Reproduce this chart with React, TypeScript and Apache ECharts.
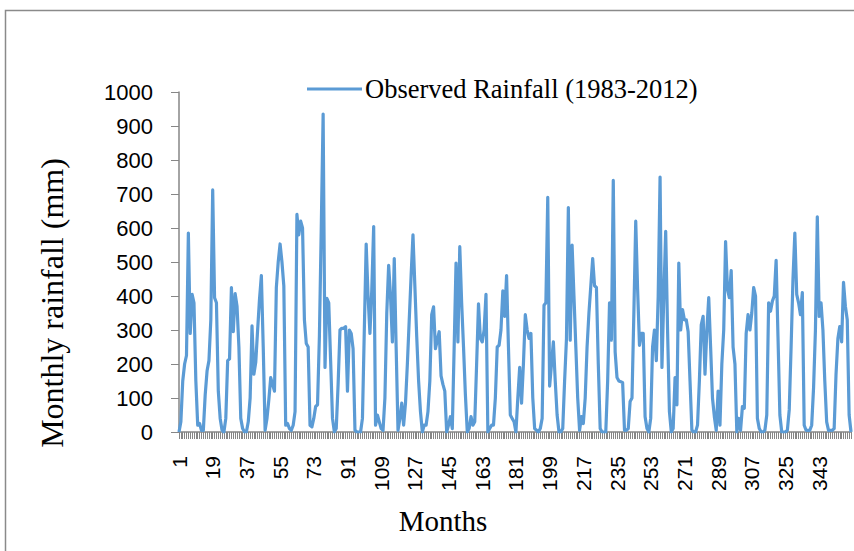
import React, { useEffect, useRef } from "react";
import * as echarts from "echarts";

const y1983 = [0, 30, 150, 200, 225, 585, 290, 405, 380, 150, 20, 25];
const y1984 = [5, 5, 110, 180, 210, 330, 712, 395, 380, 120, 40, 5];
const y1985 = [0, 40, 210, 215, 425, 295, 407, 370, 250, 40, 10, 0];
const y1986 = [0, 30, 100, 312, 170, 205, 300, 390, 460, 250, 5, 40];
const y1987 = [95, 160, 140, 120, 425, 500, 553, 500, 430, 20, 25, 10];
const y1988 = [5, 20, 60, 640, 580, 620, 600, 330, 260, 250, 20, 15];
const y1989 = [40, 75, 80, 280, 600, 935, 190, 393, 380, 210, 40, 0];
const y1990 = [10, 140, 300, 305, 305, 310, 120, 300, 290, 245, 5, 0];
const y1991 = [0, 0, 40, 300, 553, 400, 290, 420, 604, 20, 50, 30];
const y1992 = [10, 5, 100, 350, 490, 400, 265, 510, 250, 5, 40, 85];
const y1993 = [20, 85, 200, 330, 460, 580, 430, 280, 150, 60, 0, 20];
const y1994 = [20, 60, 150, 345, 368, 245, 270, 295, 165, 140, 120, 0];
const y1995 = [20, 45, 10, 250, 497, 265, 545, 380, 250, 110, 0, 10];
const y1996 = [45, 20, 30, 200, 377, 275, 265, 300, 405, 0, 10, 20];
const y1997 = [20, 100, 250, 255, 300, 415, 340, 460, 250, 50, 40, 30];
const y1998 = [0, 100, 190, 85, 200, 345, 300, 275, 290, 100, 10, 5];
const y1999 = [0, 10, 40, 373, 380, 690, 135, 200, 265, 150, 50, 0];
const y2000 = [0, 10, 150, 275, 660, 270, 550, 400, 250, 100, 5, 45];
const y2001 = [25, 100, 250, 350, 430, 510, 430, 425, 200, 10, 0, 0];
const y2002 = [0, 150, 380, 270, 740, 236, 160, 150, 148, 145, 5, 5];
const y2003 = [10, 90, 100, 350, 620, 420, 255, 290, 290, 45, 10, 0];
const y2004 = [40, 250, 300, 210, 400, 750, 190, 400, 590, 300, 60, 0];
const y2005 = [10, 160, 80, 497, 300, 360, 330, 330, 295, 150, 5, 0];
const y2006 = [0, 20, 150, 315, 340, 170, 300, 395, 250, 100, 45, 5];
const y2007 = [120, 20, 200, 300, 560, 420, 395, 475, 250, 200, 0, 40];
const y2008 = [5, 75, 70, 290, 345, 300, 350, 425, 400, 40, 10, 0];
const y2009 = [0, 5, 50, 380, 355, 385, 400, 505, 280, 50, 0, 0];
const y2010 = [0, 5, 65, 250, 450, 585, 405, 380, 345, 410, 20, 5];
const y2011 = [5, 5, 20, 130, 300, 633, 340, 380, 300, 150, 30, 5];
const y2012 = [5, 5, 10, 170, 275, 310, 265, 440, 370, 330, 50, 0];

const rainfall = [
  ...y1983, ...y1984, ...y1985, ...y1986, ...y1987, ...y1988,
  ...y1989, ...y1990, ...y1991, ...y1992, ...y1993, ...y1994,
  ...y1995, ...y1996, ...y1997, ...y1998, ...y1999, ...y2000,
  ...y2001, ...y2002, ...y2003, ...y2004, ...y2005, ...y2006,
  ...y2007, ...y2008, ...y2009, ...y2010, ...y2011, ...y2012,
];
const months = rainfall.map((_, i) => String(i + 1));

const seriesName = "Observed Rainfall (1983-2012)";
const yTitle = "Monthly rainfall (mm)";
const xTitle = "Months";

export default function App() {
  const ref = useRef<HTMLDivElement>(null);
  useEffect(() => {
    if (!ref.current) return;
    const chart = echarts.init(ref.current, null, { renderer: "svg" });
    const axisGray = "#868686";
    chart.setOption({
      animation: false,
      backgroundColor: "#ffffff",
      grid: { left: 179, right: 3, top: 92, bottom: 119, containLabel: false },
      legend: {
        left: 307,
        top: 75,
        padding: 0,
        icon: "rect",
        itemWidth: 55,
        itemHeight: 3,
        data: [seriesName],
        itemStyle: { color: "#5b9bd5" },
        textStyle: {
          fontFamily: "Liberation Serif",
          fontSize: 26.5,
          color: "#000",
          lineHeight: 28,
          padding: [0, 0, 0, -2],
        },
      },
      xAxis: {
        type: "category",
        data: months,
        boundaryGap: false,
        axisLine: { lineStyle: { color: axisGray, width: 1.5 } },
        axisTick: { show: true, interval: 0, length: 7, lineStyle: { color: axisGray } },
        axisLabel: {
          interval: 17,
          rotate: 90,
          margin: 24,
          fontFamily: "Liberation Sans",
          fontSize: 21,
          color: "#000",
        },
        splitLine: { show: false },
      },
      yAxis: {
        type: "value",
        min: 0,
        max: 1000,
        interval: 100,
        axisLine: { show: true, lineStyle: { color: axisGray, width: 1.5 } },
        axisTick: { show: true, length: 8, lineStyle: { color: axisGray } },
        axisLabel: {
          margin: 26,
          fontFamily: "Liberation Sans",
          fontSize: 22,
          color: "#000",
          formatter: (v: number) => String(v),
        },
        splitLine: { show: false },
      },
      graphic: [
        {
          type: "rect",
          shape: { x: 5.5, y: 10.5, width: 900, height: 600 },
          style: { fill: "none", stroke: "#8a8a8a", lineWidth: 1.5 },
          silent: true,
          z: -1,
        },
        {
          type: "text",
          x: 52,
          y: 303,
          rotation: Math.PI / 2,
          style: {
            text: yTitle,
            fontFamily: "Liberation Serif",
            fontSize: 32,
            fill: "#000",
            align: "center",
            verticalAlign: "middle",
          },
        },
        {
          type: "text",
          x: 443,
          y: 521,
          style: {
            text: xTitle,
            fontFamily: "Liberation Serif",
            fontSize: 29,
            fill: "#000",
            align: "center",
            verticalAlign: "middle",
          },
        },
      ],
      series: [
        {
          name: seriesName,
          type: "line",
          data: rainfall,
          symbol: "none",
          showSymbol: false,
          lineStyle: { color: "#5b9bd5", width: 3.2, join: "round" },
          itemStyle: { color: "#5b9bd5" },
        },
      ],
    });
    return () => chart.dispose();
  }, []);
  return (
    <div
      ref={ref}
      style={{ position: "absolute", left: 0, top: 0, width: 854, height: 551, background: "#fff" }}
    />
  );
}
